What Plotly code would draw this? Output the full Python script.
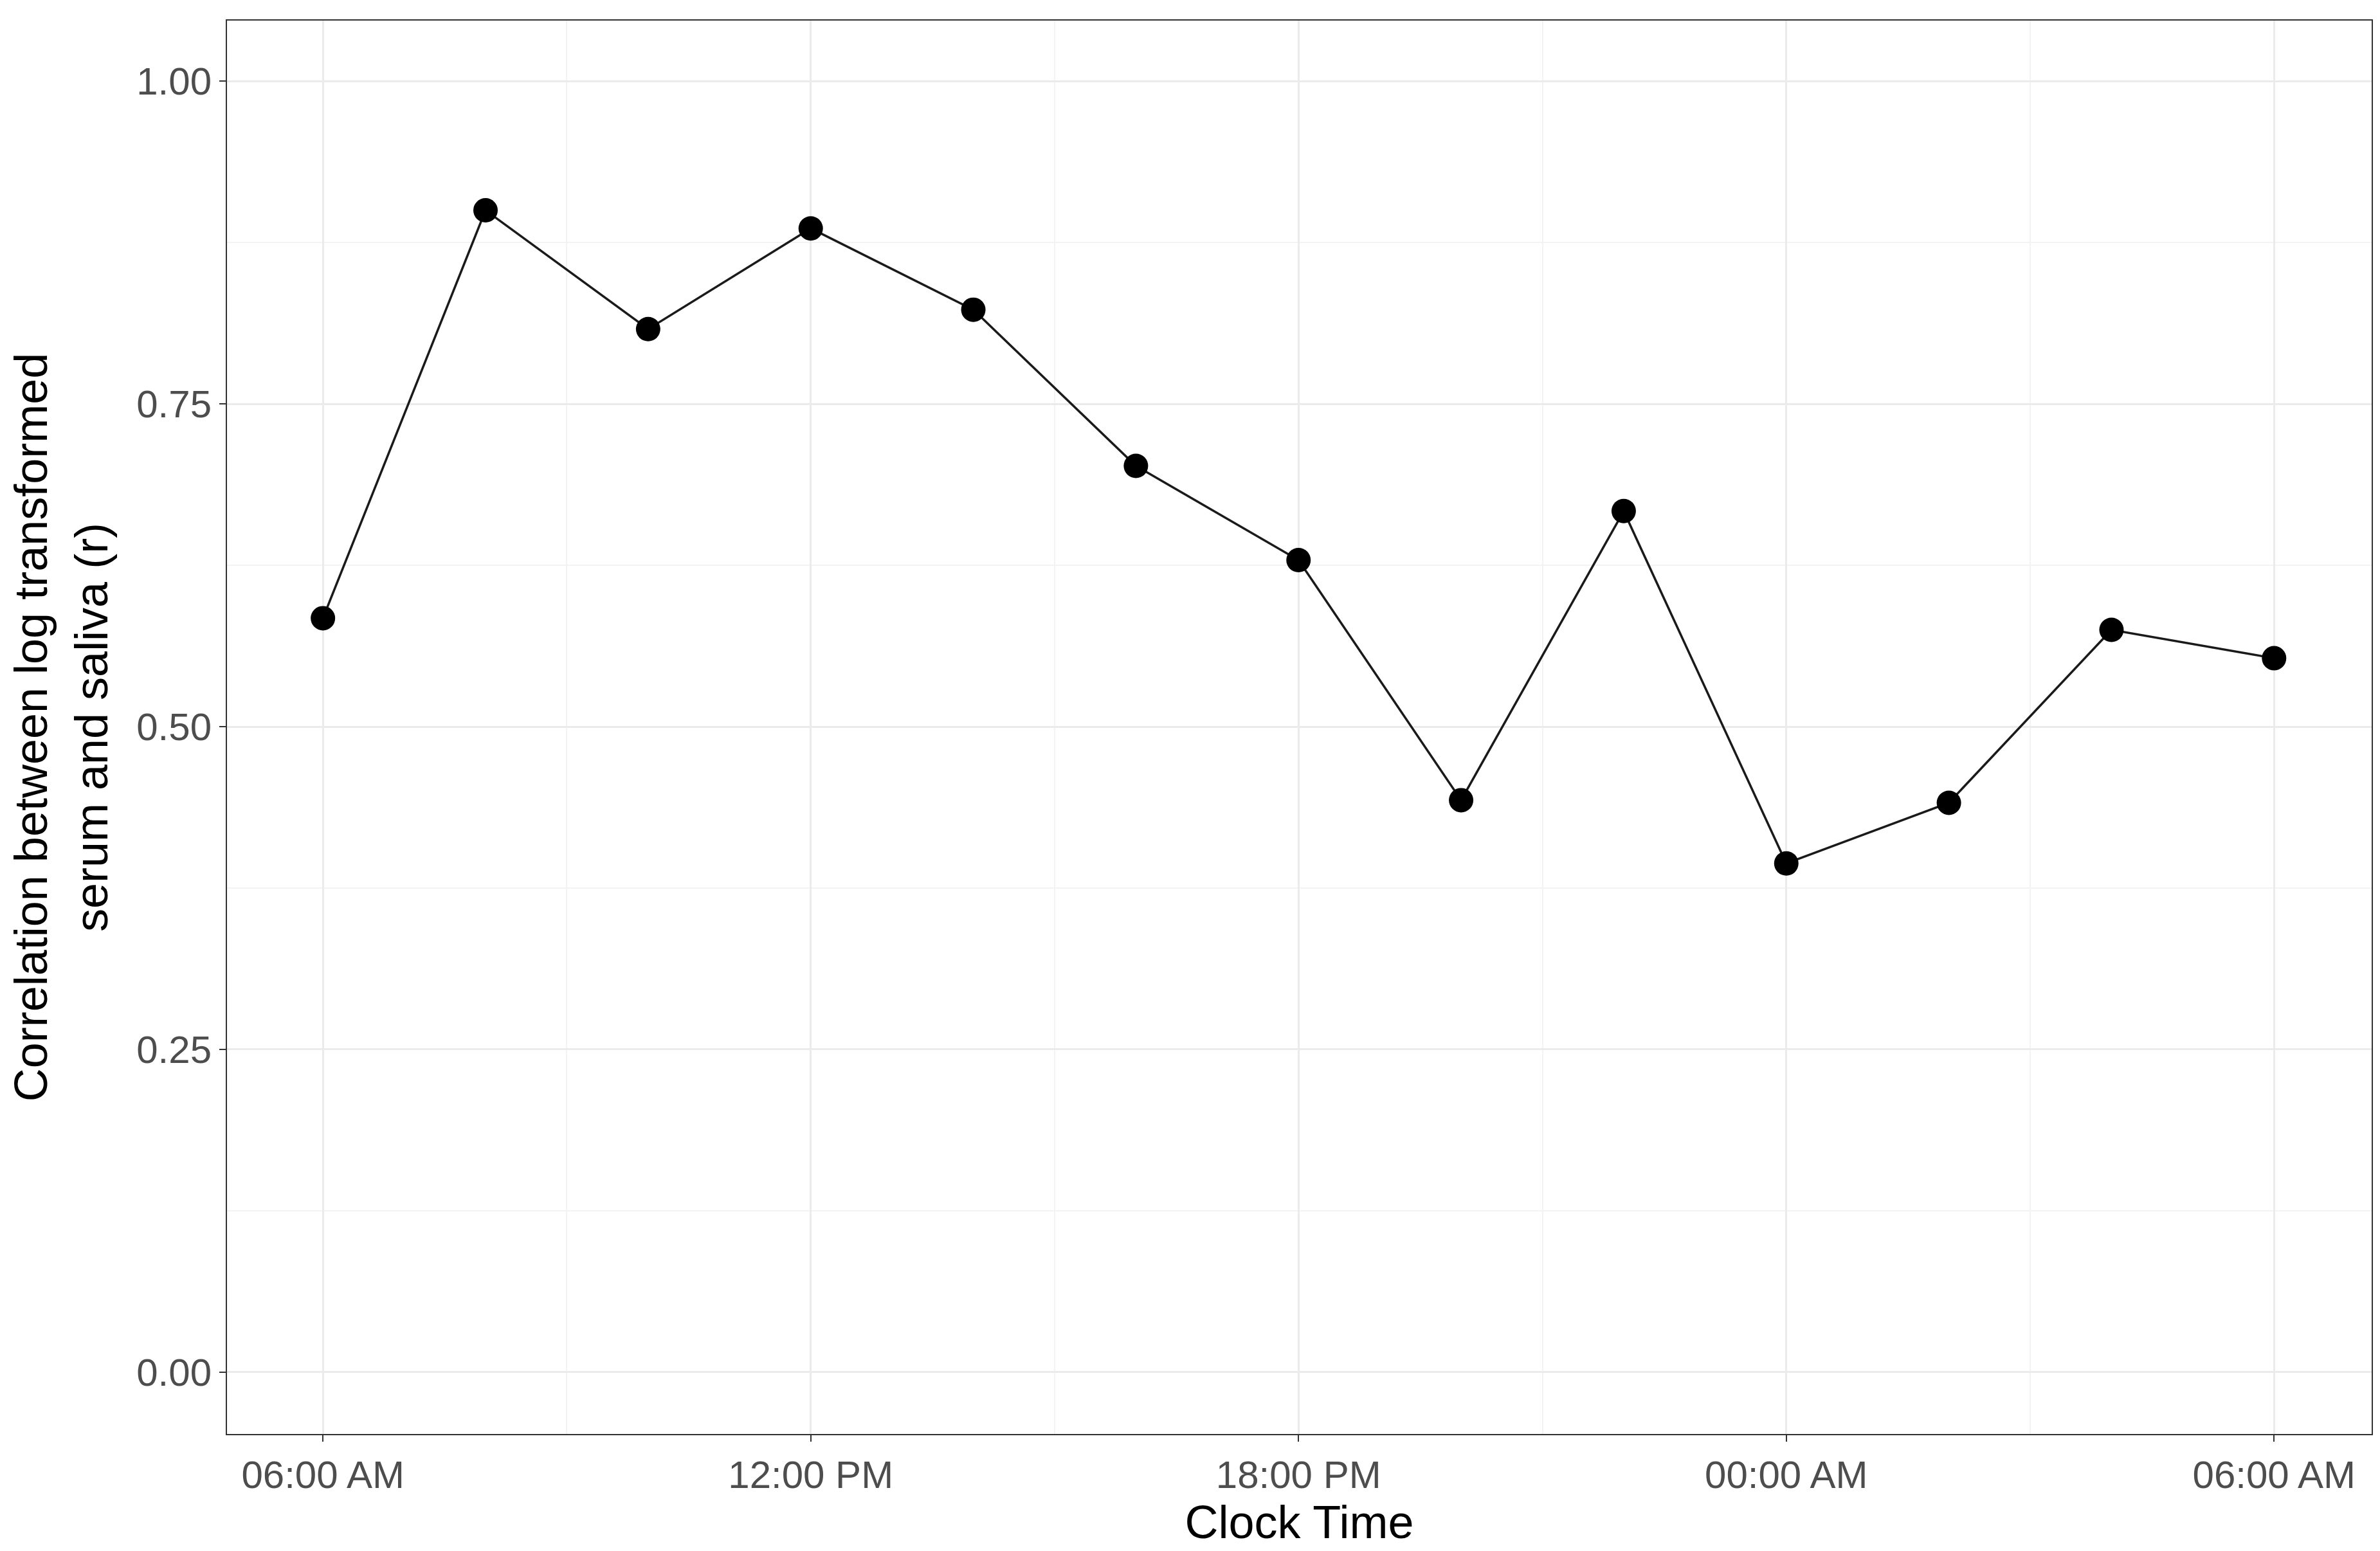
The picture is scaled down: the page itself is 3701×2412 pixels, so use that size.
import plotly.graph_objects as go

# hours since midnight of day 1 (06:00 AM through 06:00 AM next day)
hours = [6, 8, 10, 12, 14, 16, 18, 20, 22, 24, 26, 28, 30]
corr = [0.584, 0.900, 0.808, 0.886, 0.823, 0.702, 0.629, 0.443, 0.667, 0.394, 0.441, 0.575, 0.553]

tick_vals = [6, 12, 18, 24, 30]
tick_text = ["06:00 AM", "12:00 PM", "18:00 PM", "00:00 AM", "06:00 AM"]
y_ticks = [0, 0.25, 0.5, 0.75, 1.0]
y_text = ["0.00", "0.25", "0.50", "0.75", "1.00"]

fig = go.Figure()
fig.add_trace(go.Scatter(
    x=hours, y=corr, mode="lines+markers",
    line=dict(color="#1a1a1a", width=3.5),
    marker=dict(color="black", size=38),
    showlegend=False,
))

fig.update_layout(
    width=3701, height=2412,
    margin=dict(l=345, r=21, t=24, b=190),
    plot_bgcolor="white", paper_bgcolor="white",
    font=dict(family="Liberation Sans, Arial", size=60, color="#4d4d4d"),
)
fig.update_xaxes(
    range=[4.82, 31.2], tickvals=tick_vals, ticktext=tick_text,
    showgrid=True, gridcolor="#ebebeb", gridwidth=3,
    minor=dict(tickvals=[9, 15, 21, 27], showgrid=True, gridcolor="#f3f3f3", gridwidth=2),
    ticks="outside", ticklen=10, tickcolor="#333333", tickwidth=2,
    showline=True, linecolor="#333333", linewidth=2, mirror=True, zeroline=False,
    title=dict(text="Clock Time", font=dict(size=72, color="black"), standoff=5),
)
fig.update_yaxes(
    range=[-0.048, 1.047], tickvals=y_ticks, ticktext=y_text,
    showgrid=True, gridcolor="#ebebeb", gridwidth=3,
    minor=dict(tickvals=[0.125, 0.375, 0.625, 0.875], showgrid=True, gridcolor="#f3f3f3", gridwidth=2),
    ticks="outside", ticklen=10, tickcolor="#333333", tickwidth=2,
    showline=True, linecolor="#333333", linewidth=2, mirror=True, zeroline=False,
    title=dict(text="Correlation between log transformed<br>serum and saliva (r)",
               font=dict(size=72, color="black"), standoff=25),
)

fig.write_html("out.html")
